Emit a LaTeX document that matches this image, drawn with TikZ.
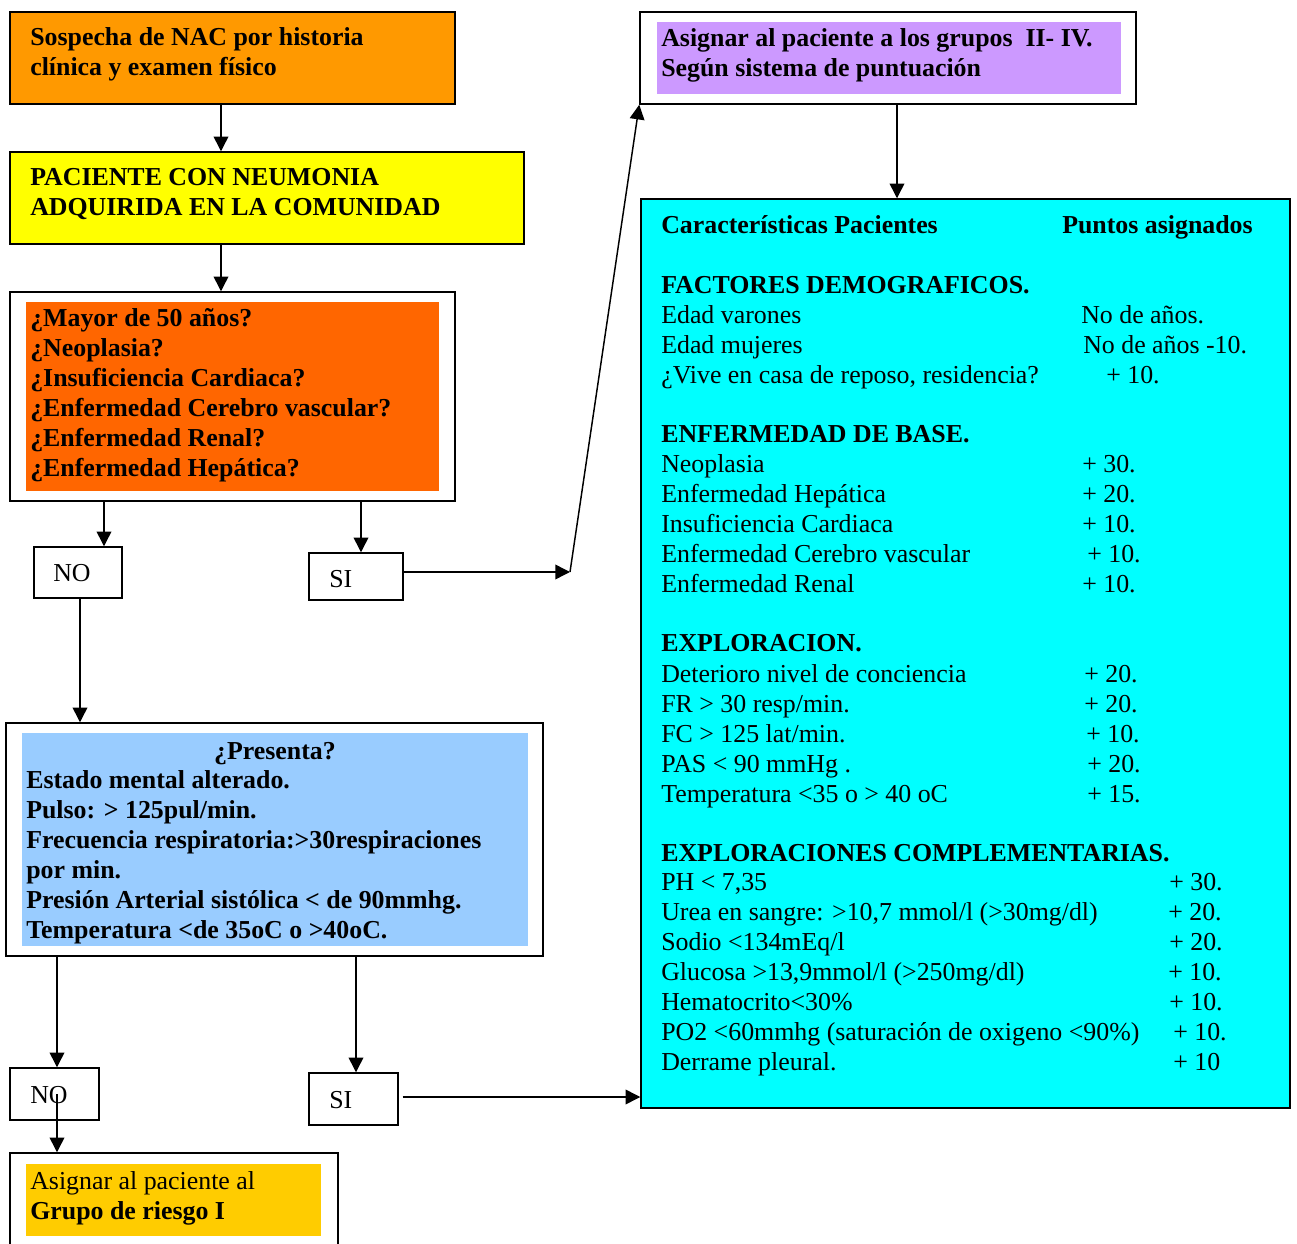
\documentclass[tikz,border=0pt]{standalone}
\usepackage{fontspec}
\setmainfont{Liberation Serif}
\usetikzlibrary{arrows.meta, fit, positioning}
\definecolor{naranjaclaro}{RGB}{255,153,0}
\definecolor{amarillo}{RGB}{255,255,0}
\definecolor{naranjafuerte}{RGB}{255,102,0}
\definecolor{celeste}{RGB}{153,204,255}
\definecolor{dorado}{RGB}{255,204,0}
\definecolor{lila}{RGB}{204,153,255}
\definecolor{turquesa}{RGB}{0,255,255}

\tikzset{
  caja/.style={draw, line width=1.1pt, inner sep=0pt},
  relleno/.style={draw=none, inner sep=0pt},
  texto/.style={anchor=base west, inner sep=0pt, align=left, font=\fontsize{19.4}{22.5}\selectfont},
  negrita/.style={texto, font=\fontsize{19.4}{22.5}\selectfont\bfseries},
  flecha/.style={-{Triangle[length=11pt,width=11pt]}, line width=1.1pt},
}

\begin{document}
\begin{tikzpicture}[x=0.75pt, y=-0.75pt]
    \useasboundingbox (0,0) rectangle (1297,1244);

    % columna izquierda (base = ultima linea)
    \node[caja, fill=naranjaclaro, fit={(10,12) (455,104)}] (sospecha) {};
    \node[negrita] (sospechatxt) at (30,76) {Sospecha de NAC por historia\\clínica y examen físico};

    \node[caja, fill=amarillo, fit={(10,152) (524,244)}] (paciente) {};
    \node[negrita] (pacientetxt) at (30,216) {PACIENTE CON NEUMONIA\\ADQUIRIDA EN LA COMUNIDAD};

    \node[caja, fit={(10,292) (455,501)}] (riesgo) {};
    \node[relleno, fill=naranjafuerte, fit={(26,302) (439,491)}] (riesgofondo) {};
    \node[negrita] (riesgotxt) at (30,477) {¿Mayor de 50 años?\\¿Neoplasia?\\¿Insuficiencia Cardiaca?\\¿Enfermedad Cerebro vascular?\\¿Enfermedad Renal?\\¿Enfermedad Hepática?};

    \node[caja, fit={(34,547) (122,598)}] (no1) {};
    \node[texto] (no1txt) at (53,582) {NO};
    \node[caja, fit={(309,553) (403,600)}] (si1) {};
    \node[texto] (si1txt) at (329,588) {SI};

    \node[caja, fit={(6,723) (543,956)}] (presenta) {};
    \node[relleno, fill=celeste, fit={(22,733) (528,946)}] (presentafondo) {};
    \node[negrita, anchor=base] (presentatit) at (275,759) {¿Presenta?};
    \node[negrita] (presentatxt) at (26,938) {Estado mental alterado.\\Pulso: > 125pul/min.\\Frecuencia respiratoria:>30respiraciones\\por min.\\Presión Arterial sistólica < de 90mmhg.\\Temperatura <de 35oC o >40oC.};

    \node[caja, fit={(10,1068) (99,1120)}] (no2) {};
    \node[texto] (no2txt) at (30,1103) {NO};
    \node[caja, fit={(309,1073) (398,1125)}] (si2) {};
    \node[texto] (si2txt) at (329,1108) {SI};

    \node[caja, fit={(10,1153) (338,1250)}] (grupouno) {};
    \node[relleno, fill=dorado, fit={(26,1164) (321,1236)}] (grupounofondo) {};
    \node[texto] (grupounotxt) at (30,1219) {Asignar al paciente al\\\textbf{Grupo de riesgo I}};

    % columna derecha
    \node[caja, fit={(640,12) (1136,104)}] (grupos) {};
    \node[relleno, fill=lila, fit={(657,22) (1121,94)}] (gruposfondo) {};
    \node[negrita] (grupostxt) at (661,77) {Asignar al paciente a los grupos~ II- IV.\\Según sistema de puntuación};

    \node[caja, fill=turquesa, fit={(641,199) (1290,1108)}] (tabla) {};
    \node[negrita] (cabizq) at (661,234) {Características Pacientes};
    \node[negrita] (cabder) at (1062,234) {Puntos asignados};
    \node[negrita] (demog) at (661,294) {FACTORES DEMOGRAFICOS.};
    \node[negrita] (base) at (661,443) {ENFERMEDAD DE BASE.};
    \node[negrita] (explor) at (661,652) {EXPLORACION.};
    \node[negrita] (complem) at (661,861) {EXPLORACIONES COMPLEMENTARIAS.};

    \foreach \yb/\izq/\xd/\der in {
        324/{Edad varones}/1081/{No de años.},
        354/{Edad mujeres}/1083/{No de años -10.},
        384/{¿Vive en casa de reposo, residencia?}/1106/{+ 10.},
        473/{Neoplasia}/1082/{+ 30.},
        503/{Enfermedad Hepática}/1082/{+ 20.},
        533/{Insuficiencia Cardiaca}/1082/{+ 10.},
        563/{Enfermedad Cerebro vascular}/1087/{+ 10.},
        593/{Enfermedad Renal}/1082/{+ 10.},
        682/{Deterioro nivel de conciencia}/1084/{+ 20.},
        712/{FR > 30 resp/min.}/1084/{+ 20.},
        742/{FC > 125 lat/min.}/1086/{+ 10.},
        772/{PAS < 90 mmHg .}/1087/{+ 20.},
        802/{Temperatura <35 o > 40 oC}/1087/{+ 15.},
        890/{PH < 7,35}/1169/{+ 30.},
        920/{Urea en sangre: >10,7 mmol/l (>30mg/dl)}/1168/{+ 20.},
        950/{Sodio <134mEq/l}/1169/{+ 20.},
        980/{Glucosa >13,9mmol/l (>250mg/dl)}/1168/{+ 10.},
        1010/{Hematocrito<30\%}/1169/{+ 10.},
        1040/{PO2 <60mmhg (saturación de oxigeno <90\%)}/1173/{+ 10.},
        1070/{Derrame pleural.}/1173/{+ 10}} {
        \node[texto] (izq\yb) at (661,\yb) {\izq};
        \node[texto] (der\yb) at (\xd,\yb) {\der};
    }

    % flechas
    \coordinate (quiebre) at (570,572);
    \draw[flecha] (sospecha.south -| 221,0) -- (paciente.north -| 221,0);
    \draw[flecha] (paciente.south -| 221,0) -- (riesgo.north -| 221,0);
    \draw[flecha] (riesgo.south -| 104,0) -- (no1.north -| 104,0);
    \draw[flecha] (riesgo.south -| 361,0) -- (si1.north -| 361,0);
    \draw[flecha] (si1.east |- 408,572) -- (quiebre);
    \draw[flecha] (quiebre) -- (grupos.south west);
    \draw[flecha] (grupos.south -| 897,0) -- (tabla.north -| 897,0);
    \draw[flecha] (no1.south -| 80,0) -- (presenta.north -| 80,0);
    \draw[flecha] (presenta.south -| 57,0) -- (no2.north -| 57,0);
    \draw[flecha] (presenta.south -| 356,0) -- (si2.north -| 356,0);
    \draw[flecha] (no2.center -| 57,0) -- (grupouno.north -| 57,0);
    \draw[flecha, shorten <=3pt] (si2.east |- 0,1097) -- (tabla.west |- 0,1097);
\end{tikzpicture}
\end{document}
